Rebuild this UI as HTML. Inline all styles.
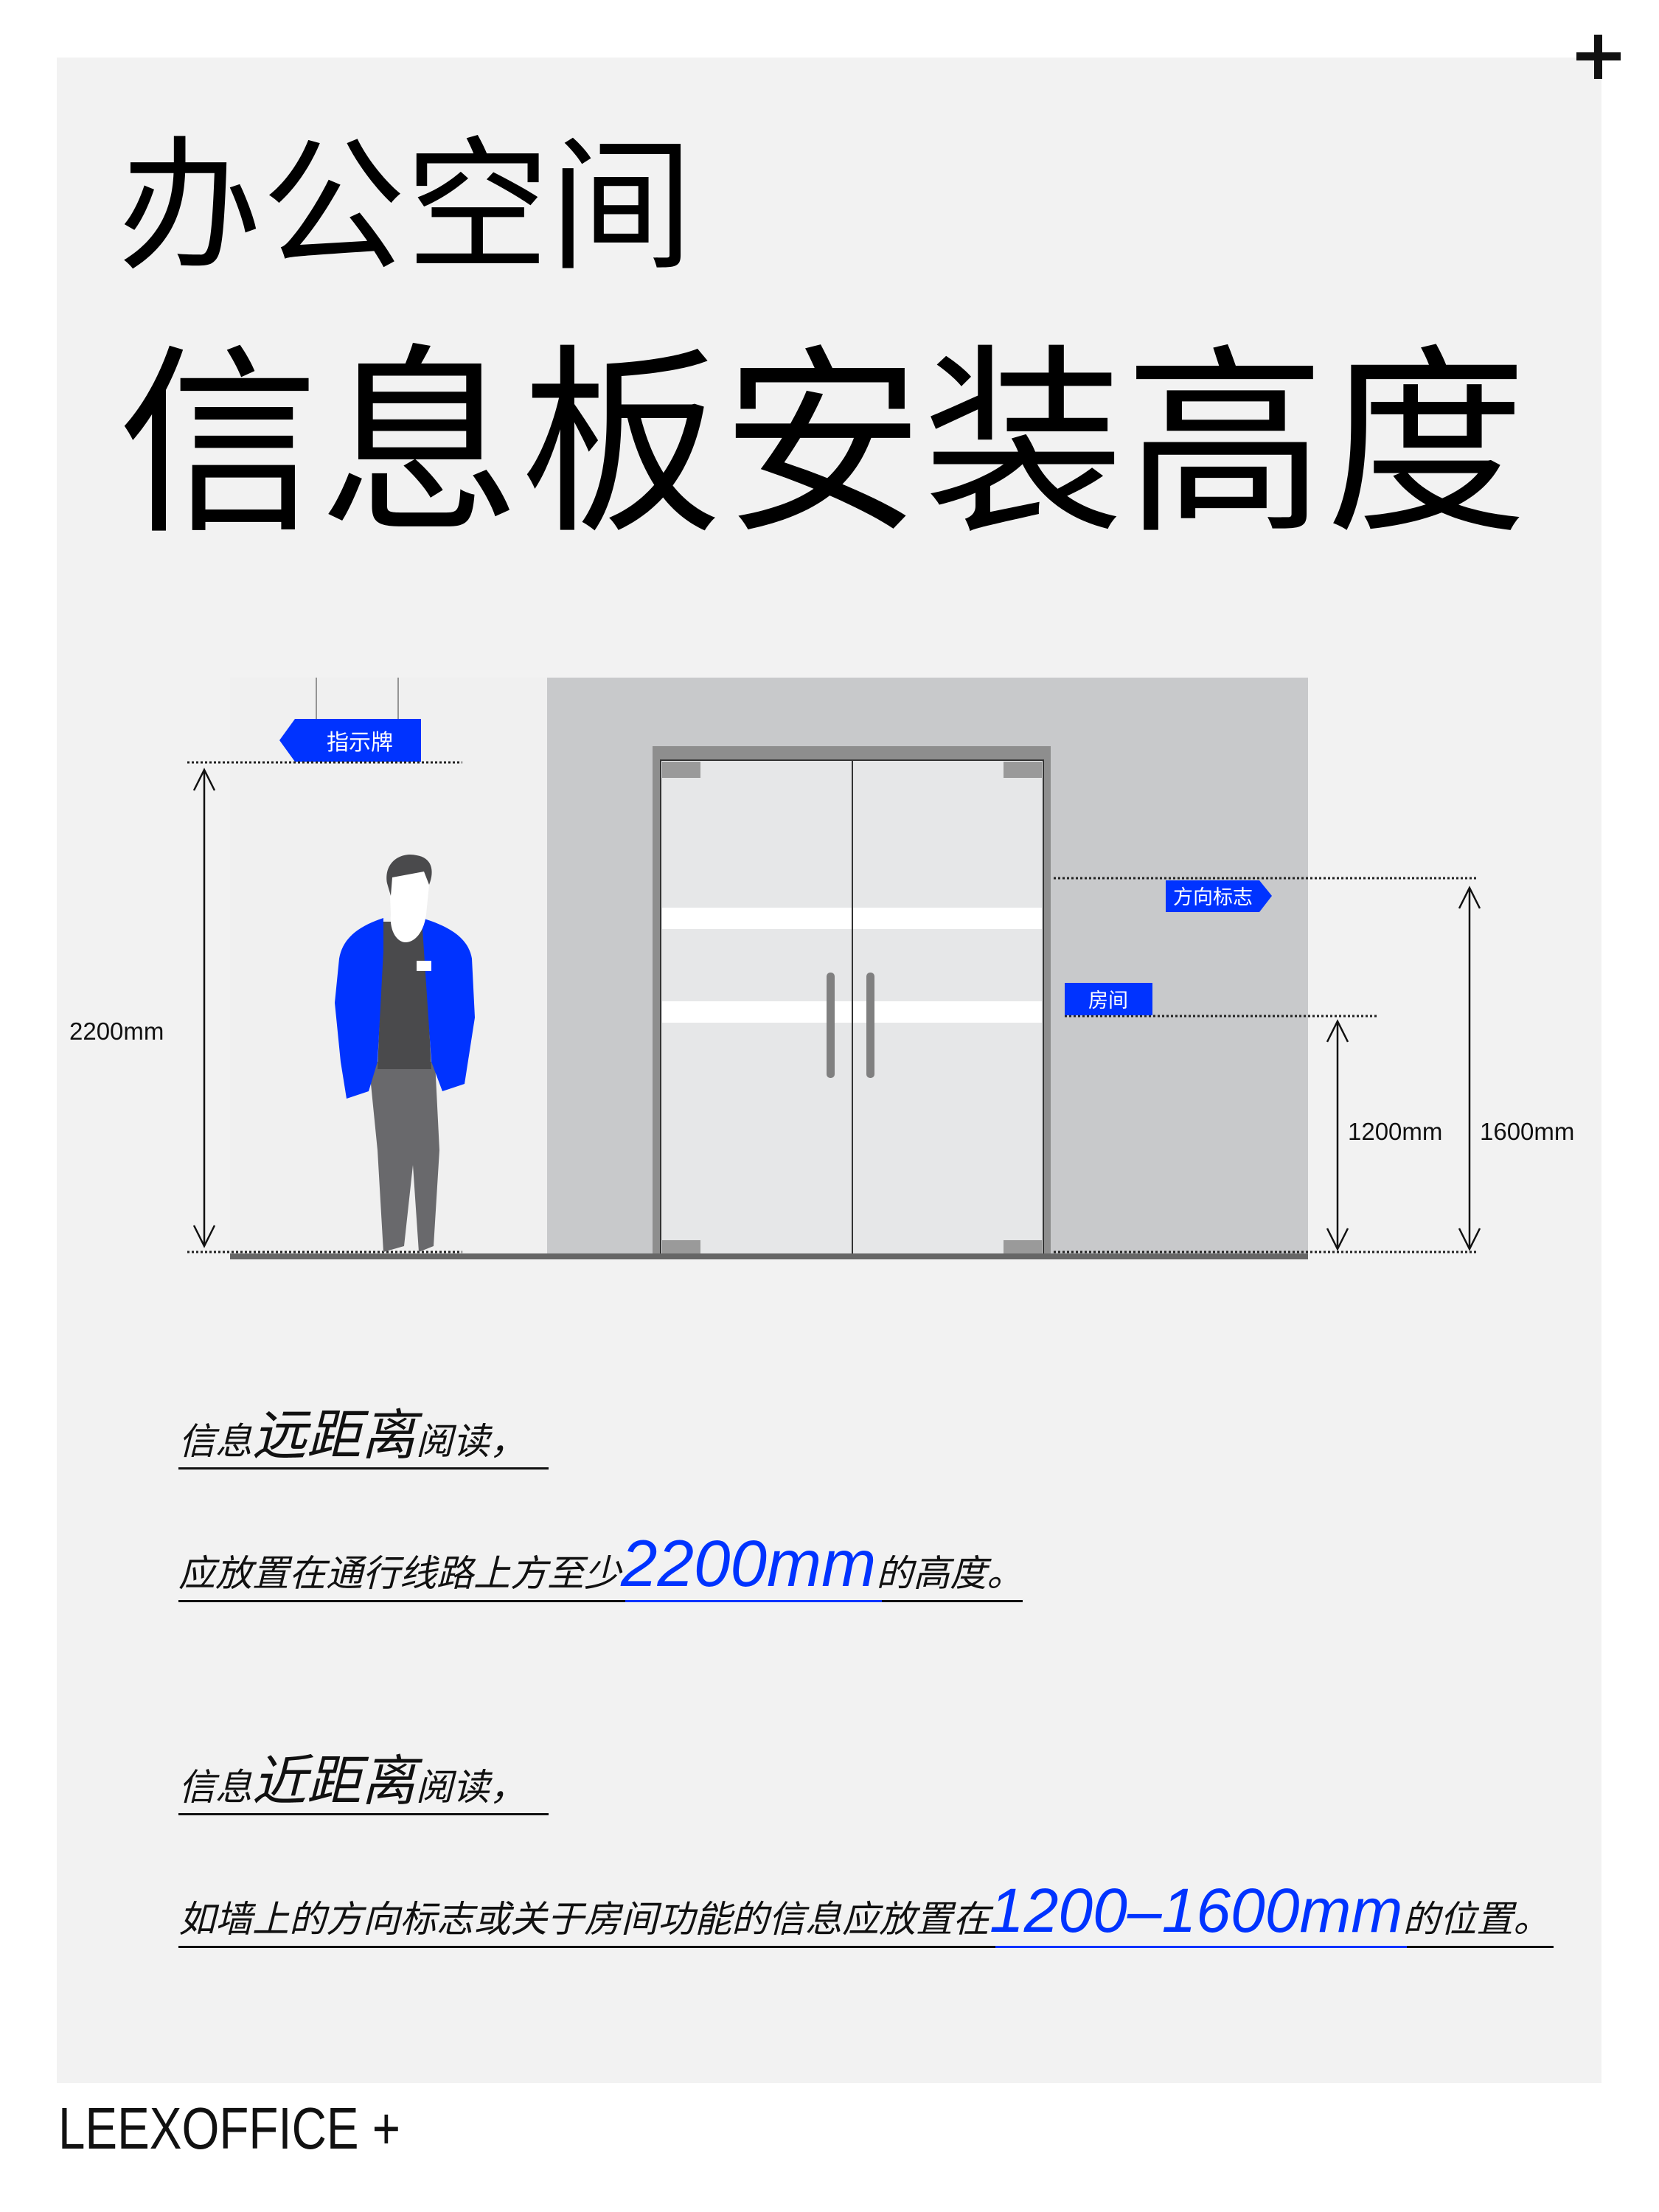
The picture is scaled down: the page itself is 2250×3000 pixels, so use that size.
<!DOCTYPE html>
<html><head><meta charset="utf-8"><style>html,body{margin:0;padding:0;background:#fff}svg{display:block}</style></head>
<body>
<svg width="2250" height="3000" viewBox="0 0 2250 3000" xmlns="http://www.w3.org/2000/svg" font-family="'Liberation Sans','Noto Sans CJK SC',sans-serif">
<rect x="0" y="0" width="2250" height="3000" fill="#fff"/>
<rect x="77" y="78" width="2095" height="2747" fill="#f2f2f2"/>
<rect x="2162" y="47" width="11" height="60" fill="#111"/>
<rect x="2138" y="71" width="60" height="11" fill="#111"/>
<text x="160" y="348" font-size="195" fill="#000">办公空间</text>
<text x="160" y="697" font-size="273" fill="#000">信息板安装高度</text>
<!-- diagram -->
<rect x="312" y="919" width="430" height="783" fill="#f0f0f0"/>
<rect x="742" y="919" width="1032" height="783" fill="#c8c9cb"/>
<rect x="885" y="1012" width="540" height="690" fill="#8e8e8e"/>
<rect x="896" y="1031" width="519" height="671" fill="#e6e7e8" stroke="#333" stroke-width="2"/>
<rect x="898" y="1231" width="515" height="29" fill="#fff"/>
<rect x="898" y="1358" width="515" height="29" fill="#fff"/>
<line x1="1156" y1="1031" x2="1156" y2="1702" stroke="#333" stroke-width="2"/>
<rect x="898" y="1033" width="52" height="22" fill="#9a9a9a"/>
<rect x="1361" y="1033" width="52" height="22" fill="#9a9a9a"/>
<rect x="898" y="1682" width="52" height="20" fill="#9a9a9a"/>
<rect x="1361" y="1682" width="52" height="20" fill="#9a9a9a"/>
<rect x="1121" y="1319" width="11" height="143" rx="5" fill="#808080"/>
<rect x="1175" y="1319" width="11" height="143" rx="5" fill="#808080"/>
<rect x="312" y="1700" width="1462" height="8" fill="#666"/>
<!-- hanging sign -->
<line x1="429" y1="919" x2="429" y2="975" stroke="#777" stroke-width="1.5"/>
<line x1="540" y1="919" x2="540" y2="975" stroke="#777" stroke-width="1.5"/>
<polygon points="400,975 571,975 571,1033 400,1033 379,1004" fill="#0033ff"/>
<text x="488" y="1017" font-size="30" fill="#fff" text-anchor="middle">指示牌</text>
<g stroke="#222" stroke-width="3" stroke-dasharray="3 3">
<line x1="254" y1="1034" x2="627" y2="1034"/>
<line x1="254" y1="1698" x2="627" y2="1698"/>
<line x1="1429" y1="1191" x2="2003" y2="1191"/>
<line x1="1444" y1="1378" x2="1868" y2="1378"/>
<line x1="1429" y1="1698" x2="2003" y2="1698"/>
</g>
<polygon points="1581,1194 1708,1194 1725,1215 1708,1237 1581,1237" fill="#0033ff"/>
<text x="1645" y="1226" font-size="27" fill="#fff" text-anchor="middle">方向标志</text>
<rect x="1444" y="1333" width="119" height="44" fill="#0033ff"/>
<text x="1503" y="1366" font-size="27" fill="#fff" text-anchor="middle">房间</text>
<g stroke="#111" stroke-width="2.5" fill="none">
<line x1="277" y1="1044" x2="277" y2="1690"/>
<polyline points="263,1072 277,1044 291,1072"/>
<polyline points="263,1662 277,1690 291,1662"/>
<line x1="1814" y1="1385" x2="1814" y2="1694"/>
<polyline points="1800,1413 1814,1385 1828,1413"/>
<polyline points="1800,1666 1814,1694 1828,1666"/>
<line x1="1993" y1="1204" x2="1993" y2="1694"/>
<polyline points="1979,1232 1993,1204 2007,1232"/>
<polyline points="1979,1666 1993,1694 2007,1666"/>
</g>
<text x="94" y="1410" font-size="33" fill="#111">2200mm</text>
<text x="1828" y="1546" font-size="33" fill="#111">1200mm</text>
<text x="2007" y="1546" font-size="33" fill="#111">1600mm</text>
<!-- person -->
<path d="M500,1440 L590,1440 L596,1560 L588,1690 L568,1698 L560,1580 L548,1690 L520,1698 L512,1560 Z" fill="#69696c"/>
<path d="M520,1250 L575,1250 L585,1450 L512,1450 Z" fill="#4a4a4c"/>
<path d="M520,1245 C490,1255 465,1270 460,1300 L454,1360 L462,1440 L470,1490 L500,1480 L512,1440 L520,1290 Z" fill="#0033ff"/>
<path d="M572,1245 C605,1255 635,1270 640,1300 L644,1380 L630,1470 L600,1480 L585,1440 L575,1290 Z" fill="#0033ff"/>
<rect x="565" y="1303" width="20" height="14" fill="#fff"/>
<path d="M528,1190 C528,1165 545,1158 560,1160 C578,1162 586,1175 582,1200 L578,1240 C575,1265 562,1278 550,1278 C538,1278 528,1262 530,1240 Z" fill="#fff"/>
<path d="M525,1198 C520,1168 545,1155 565,1160 C585,1163 590,1180 582,1200 L575,1182 L532,1190 L530,1215 Z" fill="#4a4a4c"/>
<!-- texts -->
<g font-style="italic" fill="#111">
<text x="242" y="1972" font-size="50">信息<tspan font-size="74">远距离</tspan>阅读，</text>
<text x="242" y="2151" font-size="50">应放置在通行线路上方至少<tspan font-size="89" fill="#0033ff">2200mm</tspan>的高度。</text>
<text x="242" y="2441" font-size="50">信息<tspan font-size="74">近距离</tspan>阅读，</text>
<text x="242" y="2620" font-size="50">如墙上的方向标志或关于房间功能的信息应放置在<tspan font-size="84" fill="#0033ff">1200–1600mm</tspan>的位置。</text>
</g>
<rect x="242" y="1990" width="502" height="3" fill="#111"/>
<rect x="242" y="2170" width="1145" height="3" fill="#111"/>
<rect x="848" y="2170" width="348" height="3" fill="#0033ff"/>
<rect x="242" y="2459" width="502" height="3" fill="#111"/>
<rect x="242" y="2639" width="1865" height="3" fill="#111"/>
<rect x="1350" y="2639" width="558" height="3" fill="#0033ff"/>
<text x="79" y="2914" font-size="80" fill="#111" textLength="464" lengthAdjust="spacingAndGlyphs">LEEXOFFICE +</text>
</svg>
</body></html>
